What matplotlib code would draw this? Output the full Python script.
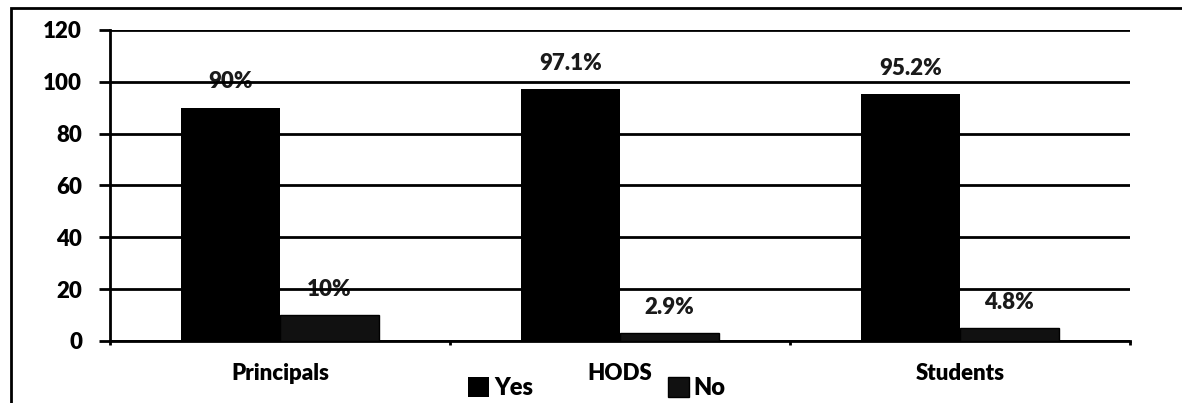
import numpy as np
import matplotlib.pyplot as plt
from matplotlib.patches import Rectangle

groups = ['Principals', 'HODS', 'Students']
yes = [90, 97.1, 95.2]
no = [10, 2.9, 4.8]
yes_labels = ['90%', '97.1%', '95.2%']
no_labels = ['10%', '2.9%', '4.8%']

plt.rcParams['font.family'] = ['Lato', 'DejaVu Sans']

fig = plt.figure(figsize=(11.82, 4.03), dpi=100)
ax = fig.add_axes([0.093, 0.154, 0.863, 0.772])

x = np.arange(len(groups))
width = 0.29
ax.bar(x - width/2, yes, width, color='black', label='Yes', zorder=3)
ax.bar(x + width/2, no, width, color='#111111', edgecolor='black', label='No', zorder=3)

for i in range(len(groups)):
    ax.text(x[i] - width/2, yes[i] + 10, yes_labels[i], ha='center', va='center',
            fontsize=16, fontweight='heavy', color='#1a1a1a', zorder=1)
    ax.text(x[i] + width/2, no[i] + 10, no_labels[i], ha='center', va='center',
            fontsize=16, fontweight='heavy', color='#1a1a1a', zorder=1)

ax.set_xlim(-0.5, 2.5)
ax.set_ylim(0, 120)
ax.set_yticks(np.arange(0, 121, 20))
ax.yaxis.grid(True, color='black', linewidth=2, zorder=2)
ax.set_axisbelow(False)

ax.set_xticks(x)
ax.set_xticklabels(groups, fontsize=16, fontweight='heavy')
ax.set_xticks([-0.5, 0.5, 1.5, 2.5], minor=True)
ax.tick_params(axis='x', which='major', length=0, pad=16)
ax.tick_params(axis='x', which='minor', length=3, width=2, direction='out')
ax.tick_params(axis='y', length=8, width=2, direction='out', labelsize=16, pad=12)
for lab in ax.get_yticklabels():
    lab.set_fontweight('heavy')

for s in ['top', 'right']:
    ax.spines[s].set_visible(False)
ax.spines['left'].set_linewidth(2)
ax.spines['bottom'].set_linewidth(2)

fig.legend(loc='center', bbox_to_anchor=(0.505, 0.037), ncol=2, frameon=False,
           prop={'weight': 'heavy', 'size': 17}, handlelength=0.9, handleheight=0.9,
           handletextpad=0.2, columnspacing=5.7)

fig.patches.append(Rectangle((0.009, -0.02), 1.2, 1.0, transform=fig.transFigure,
                             fill=False, edgecolor='black', linewidth=2))

fig.savefig('out.png', dpi=100)
